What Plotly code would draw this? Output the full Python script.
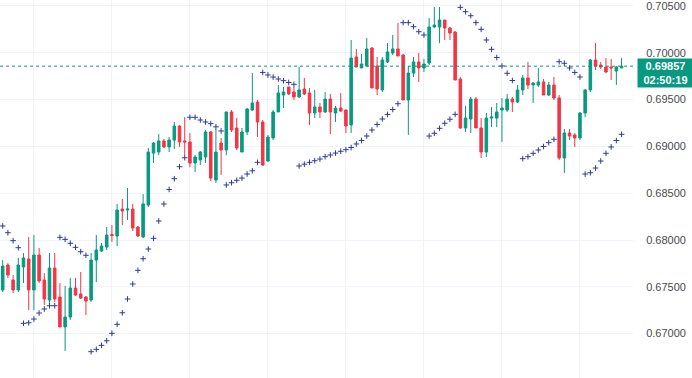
import plotly.graph_objects as go

# ---- data ----
bar_index = list(range(120))

opens = [0.67466,0.67733,0.67573,0.67466,0.67712,0.67797,0.67466,0.67840,0.67573,0.67359,
         0.67701,0.67391,0.67071,0.67177,0.67487,0.67423,0.67391,0.67359,0.67786,0.67882,
         0.67925,0.68059,0.68043,0.68331,0.68321,0.68331,0.68139,0.68032,0.68374,0.68929,
         0.68940,0.69058,0.68994,0.69068,0.69218,0.69058,0.69047,0.68823,0.68855,0.68887,
         0.69154,0.68641,0.69036,0.68962,0.69368,0.69197,0.68940,0.69154,0.69389,0.69474,
         0.69261,0.68844,0.69090,0.69368,0.69549,0.69635,0.69581,0.69528,0.69613,0.69571,
         0.69357,0.69421,0.69368,0.69506,0.69357,0.69410,0.69389,0.69229,0.69955,0.69838,
         0.69859,0.70051,0.69859,0.69603,0.69902,0.69998,0.70041,0.69976,0.69496,0.69784,
         0.69902,0.69838,0.69891,0.70276,0.70276,0.70350,0.70265,0.70222,0.69720,0.69197,
         0.69293,0.69506,0.69197,0.68940,0.69303,0.69303,0.69389,0.69389,0.69506,0.69474,
         0.69603,0.69731,0.69656,0.69656,0.69688,0.69549,0.69656,0.69517,0.68876,0.69143,
         0.69122,0.69090,0.69357,0.69603,0.69923,0.69870,0.69848,0.69848,0.69806,0.69838]

highs = [0.67786,0.67754,0.67626,0.67808,0.67861,0.68032,0.68053,0.67915,0.67647,0.67861,
         0.67861,0.67541,0.67509,0.67594,0.67594,0.67658,0.67402,0.67861,0.68053,0.67968,
         0.68139,0.68160,0.68385,0.68438,0.68556,0.68385,0.68150,0.68491,0.68983,0.69047,
         0.69132,0.69079,0.69100,0.69261,0.69229,0.69314,0.69143,0.68908,0.68951,0.69175,
         0.69165,0.69186,0.69090,0.69368,0.69389,0.69303,0.69197,0.69410,0.69784,0.69496,
         0.69282,0.69122,0.69389,0.69656,0.69635,0.69635,0.69635,0.69848,0.69731,0.69624,
         0.69603,0.69464,0.69581,0.69560,0.69432,0.69571,0.69389,0.70137,0.70041,0.69987,
         0.70158,0.70062,0.69955,0.69955,0.70105,0.70190,0.70318,0.69987,0.69859,0.69955,
         0.69998,0.69934,0.70372,0.70489,0.70489,0.70350,0.70276,0.70233,0.69741,0.69432,
         0.69528,0.69528,0.69303,0.69357,0.69421,0.69464,0.69517,0.69560,0.69528,0.69656,
         0.69763,0.69902,0.69688,0.69838,0.69720,0.69688,0.69741,0.69549,0.69186,0.69186,
         0.69143,0.69368,0.69613,0.69934,0.70105,0.69902,0.69944,0.69934,0.69859,0.69944]

lows = [0.67444,0.67594,0.67434,0.67444,0.67541,0.67252,0.67252,0.67541,0.67306,0.67306,
        0.67338,0.67071,0.66814,0.67145,0.67402,0.67370,0.67199,0.67338,0.67551,0.67872,
        0.67893,0.67979,0.67936,0.68160,0.68214,0.68096,0.68032,0.68021,0.68353,0.68823,
        0.68908,0.68983,0.68940,0.68972,0.68994,0.68908,0.68780,0.68726,0.68801,0.68823,
        0.68630,0.68609,0.68694,0.68908,0.69154,0.68962,0.68940,0.69122,0.69378,0.69100,
        0.68791,0.68833,0.69068,0.69368,0.69410,0.69549,0.69496,0.69517,0.69549,0.69229,
        0.69303,0.69303,0.69357,0.69132,0.69261,0.69368,0.69143,0.69143,0.69848,0.69838,
        0.69859,0.69624,0.69549,0.69581,0.69891,0.69976,0.69966,0.69496,0.69122,0.69741,
        0.69688,0.69795,0.69870,0.70265,0.70105,0.70137,0.70137,0.69709,0.69186,0.69154,
        0.69143,0.69197,0.68876,0.68887,0.69207,0.69207,0.69047,0.69368,0.69368,0.69464,
        0.69549,0.69613,0.69464,0.69635,0.69549,0.69538,0.69496,0.68855,0.68716,0.69068,
        0.68994,0.69068,0.69314,0.69581,0.69816,0.69827,0.69784,0.69709,0.69656,0.69838]

closes = [0.67722,0.67626,0.67466,0.67733,0.67808,0.67466,0.67840,0.67562,0.67370,0.67701,
          0.67370,0.67071,0.67177,0.67487,0.67412,0.67380,0.67348,0.67786,0.67893,0.67936,
          0.68053,0.68048,0.68321,0.68310,0.68331,0.68128,0.68043,0.68385,0.68940,0.69036,
          0.69058,0.68994,0.69068,0.69218,0.69047,0.69047,0.68823,0.68887,0.68940,0.69154,
          0.68662,0.68940,0.68962,0.69368,0.69175,0.68983,0.69154,0.69400,0.69464,0.69261,
          0.68801,0.69100,0.69368,0.69571,0.69581,0.69560,0.69528,0.69603,0.69560,0.69357,
          0.69421,0.69368,0.69506,0.69368,0.69410,0.69378,0.69218,0.69944,0.69848,0.69880,
          0.70041,0.69624,0.69613,0.69923,0.70009,0.70041,0.69966,0.69496,0.69784,0.69902,
          0.69838,0.69880,0.70276,0.70297,0.70350,0.70265,0.70212,0.69709,0.69197,0.69303,
          0.69506,0.69197,0.68940,0.69303,0.69314,0.69368,0.69410,0.69506,0.69474,0.69603,
          0.69731,0.69656,0.69677,0.69688,0.69549,0.69656,0.69517,0.68876,0.69143,0.69111,
          0.69090,0.69357,0.69603,0.69923,0.69859,0.69848,0.69795,0.69838,0.69848,0.69857]

psar = [0.68150,0.68078,0.67993,0.67918,0.67110,0.67116,0.67156,0.67220,0.67263,0.67298,
        0.67298,0.68029,0.68007,0.67965,0.67922,0.67875,0.67837,0.66807,0.66832,0.66875,
        0.66924,0.67003,0.67099,0.67223,0.67370,0.67530,0.67676,0.67800,0.67904,0.68018,
        0.68203,0.68385,0.68540,0.68655,0.68783,0.68879,0.69311,0.69311,0.69282,0.69261,
        0.69243,0.69209,0.69165,0.68588,0.68612,0.68638,0.68662,0.68705,0.68740,0.68830,
        0.69790,0.69763,0.69741,0.69720,0.69702,0.69683,0.69663,0.68791,0.68810,0.68830,
        0.68847,0.68865,0.68890,0.68908,0.68929,0.68948,0.68965,0.68988,0.69026,0.69063,
        0.69111,0.69175,0.69234,0.69293,0.69341,0.69394,0.69456,0.70322,0.70322,0.70279,
        0.70225,0.70190,0.69111,0.69140,0.69193,0.69247,0.69290,0.69343,0.70486,0.70439,
        0.70396,0.70322,0.70251,0.70137,0.70037,0.69950,0.69859,0.69781,0.69704,None,
        0.68869,0.68890,0.68926,0.68962,0.68999,0.69040,0.69076,0.69905,0.69888,0.69838,
        0.69790,0.69741,0.68705,0.68719,0.68769,0.68844,0.68926,0.68994,0.69063,0.69129]

y_ticks = [0.665, 0.670, 0.675, 0.680, 0.685, 0.690, 0.695, 0.700, 0.705]
y_tick_labels = ["0.66500", "0.67000", "0.67500", "0.68000", "0.68500",
                 "0.69000", "0.69500", "0.70000", "0.70500"]
x_grid = [6, 21, 36, 51, 66, 81, 96, 111]

last_price = 0.69857
last_price_text = "0.69857"
countdown_text = "02:50:19"

UP = "#089981"
DOWN = "#f23645"
GRID = "#f0f3fa"

fig = go.Figure()

fig.add_trace(go.Scatter(
    x=bar_index, y=psar, mode="markers",
    marker=dict(symbol="cross-thin", size=4, line=dict(width=1, color="#2e3a9c"),
                color="#2e3a9c"),
    hoverinfo="skip", showlegend=False,
))

fig.add_trace(go.Candlestick(
    x=bar_index, open=opens, high=highs, low=lows, close=closes,
    increasing=dict(line=dict(color=UP, width=1), fillcolor=UP),
    decreasing=dict(line=dict(color=DOWN, width=1), fillcolor=DOWN),
    whiskerwidth=0, showlegend=False,
))

fig.add_shape(type="line", xref="paper", x0=0, x1=1, yref="y",
              y0=last_price, y1=last_price,
              line=dict(color=UP, width=1, dash="dot"))

fig.add_annotation(
    xref="paper", x=1, xanchor="left", xshift=4,
    yref="y", y=last_price, yanchor="top", yshift=8,
    text="<b>" + last_price_text + "</b><br><b>" + countdown_text + "</b>",
    showarrow=False, bgcolor=UP, borderpad=1, width=53,
    font=dict(color="white", size=11, family="Liberation Sans"),
    align="center",
)

fig.update_layout(
    width=692, height=378,
    margin=dict(l=0, r=59, t=0, b=0),
    paper_bgcolor="white", plot_bgcolor="white",
    font=dict(family="Liberation Sans", size=11, color="#4a4a4a"),
    showlegend=False,
    xaxis=dict(range=[-0.52, 121.2], rangeslider=dict(visible=False),
               tickvals=x_grid, showticklabels=False, showgrid=True,
               gridcolor=GRID, zeroline=False, showline=False, ticks=""),
    yaxis=dict(side="right", range=[0.66526, 0.70564],
               tickvals=y_ticks, ticktext=y_tick_labels,
               ticklabeloverflow="allow",
               showgrid=True, gridcolor=GRID, zeroline=False, showline=False,
               ticks="outside", ticklen=10, tickcolor="rgba(0,0,0,0)"),
)

fig.write_html("out.html",
               config={"displayModeBar": False},
               post_script="document.body.style.margin='0';document.body.style.overflow='hidden';")
